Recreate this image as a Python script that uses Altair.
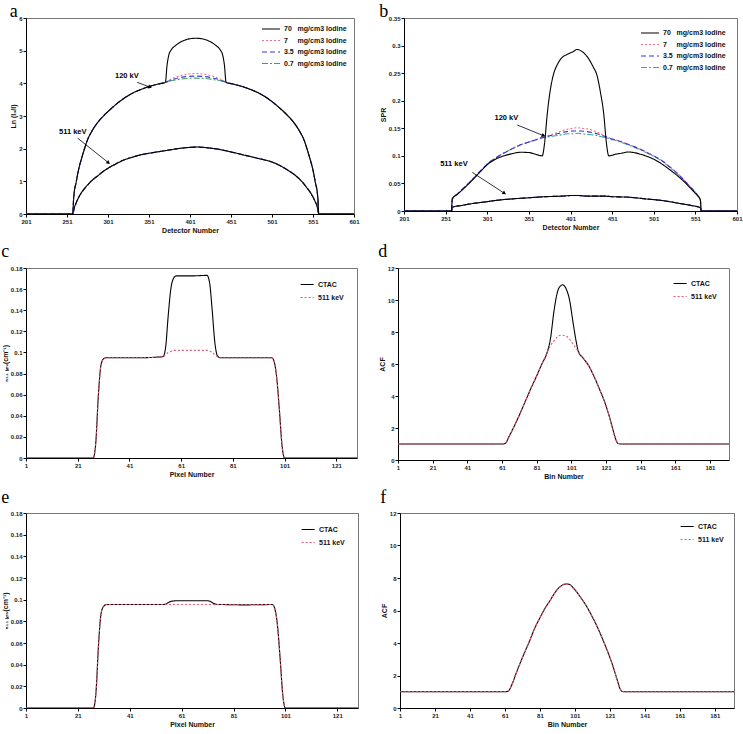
import altair as alt
import pandas as pd

SANS = "Liberation Sans"
SERIF = "Liberation Serif"

# ---------------- panel a : Ln(I0/I) vs detector ----------------
a_x = [201, 258, 259, 260, 262, 264, 266, 269, 272, 276, 281, 289, 297, 305, 313, 321, 331, 341, 351, 361, 371,
       373, 375, 378, 383, 390, 398, 408, 418, 426, 433, 438, 441, 443,
       445, 455, 465, 475, 485, 495, 503, 511, 519, 527, 535, 540, 544, 547, 550, 552, 554, 556, 557, 558, 601]
a_70 = [0, 0, 0.45, 0.70, 0.95, 1.22, 1.45, 1.72, 1.97, 2.27, 2.52, 2.82, 3.04, 3.23, 3.40, 3.55, 3.70, 3.81, 3.90, 3.97, 4.03,
        4.55, 4.85, 5.02, 5.15, 5.27, 5.35, 5.38, 5.35, 5.27, 5.15, 5.02, 4.85, 4.55,
        4.03, 3.97, 3.90, 3.81, 3.70, 3.55, 3.40, 3.23, 3.04, 2.82, 2.52, 2.27, 1.97, 1.72, 1.45, 1.22, 0.95, 0.70, 0.45, 0, 0]
a_7 = [0, 0, 0.45, 0.70, 0.95, 1.22, 1.45, 1.72, 1.97, 2.27, 2.52, 2.82, 3.04, 3.23, 3.40, 3.55, 3.70, 3.81, 3.90, 3.97, 4.03,
       4.06, 4.09, 4.13, 4.18, 4.24, 4.28, 4.30, 4.28, 4.24, 4.18, 4.13, 4.09, 4.06,
       4.03, 3.97, 3.90, 3.81, 3.70, 3.55, 3.40, 3.23, 3.04, 2.82, 2.52, 2.27, 1.97, 1.72, 1.45, 1.22, 0.95, 0.70, 0.45, 0, 0]
a_35 = [0, 0, 0.45, 0.70, 0.95, 1.22, 1.45, 1.72, 1.97, 2.27, 2.52, 2.82, 3.04, 3.23, 3.40, 3.55, 3.70, 3.81, 3.90, 3.97, 4.03,
        4.05, 4.07, 4.10, 4.14, 4.18, 4.21, 4.22, 4.21, 4.18, 4.14, 4.10, 4.07, 4.05,
        4.03, 3.97, 3.90, 3.81, 3.70, 3.55, 3.40, 3.23, 3.04, 2.82, 2.52, 2.27, 1.97, 1.72, 1.45, 1.22, 0.95, 0.70, 0.45, 0, 0]
a_07 = [0, 0, 0.45, 0.70, 0.95, 1.22, 1.45, 1.72, 1.97, 2.27, 2.52, 2.82, 3.04, 3.23, 3.40, 3.55, 3.70, 3.81, 3.90, 3.97, 4.03,
        4.04, 4.06, 4.08, 4.10, 4.13, 4.15, 4.16, 4.15, 4.13, 4.10, 4.08, 4.06, 4.04,
        4.03, 3.97, 3.90, 3.81, 3.70, 3.55, 3.40, 3.23, 3.04, 2.82, 2.52, 2.27, 1.97, 1.72, 1.45, 1.22, 0.95, 0.70, 0.45, 0, 0]
a511_x = [201, 258, 260, 262, 265, 268, 273, 278, 283, 289, 295, 301, 311, 321, 331, 341, 356, 371, 386, 401,
          411, 421, 436, 451, 466, 481, 491, 501, 511, 521, 531, 538, 543, 548, 551, 554, 556, 558, 601]
a511_y = [0, 0, 0.20, 0.33, 0.50, 0.63, 0.80, 0.94, 1.06, 1.18, 1.30, 1.40, 1.54, 1.66, 1.74, 1.81, 1.88, 1.94, 2.00, 2.04,
          2.05, 2.03, 1.98, 1.90, 1.81, 1.72, 1.66, 1.59, 1.48, 1.33, 1.15, 0.98, 0.82, 0.65, 0.52, 0.36, 0.25, 0, 0]

# ---------------- panel b : SPR vs detector ----------------
b_x = [201, 258, 259, 265, 275, 285, 295, 301, 311, 321, 331, 341, 351, 361, 367, 370, 373, 377, 381, 385,
       390, 397, 404, 409, 414, 421, 428, 433, 437, 441, 444, 447, 455, 463, 470, 477, 485, 493, 501, 511,
       521, 531, 541, 549, 554, 557, 558, 601]
b_70 = [0, 0, 0.022, 0.030, 0.044, 0.059, 0.075, 0.084, 0.094, 0.100, 0.104, 0.1065, 0.106, 0.102, 0.100, 0.125,
        0.175, 0.222, 0.250, 0.265, 0.277, 0.284, 0.289, 0.293, 0.290, 0.280, 0.262, 0.245, 0.215, 0.175,
        0.125, 0.100, 0.103, 0.105, 0.107, 0.106, 0.103, 0.099, 0.094, 0.085, 0.074, 0.062, 0.048, 0.035,
        0.027, 0.020, 0, 0]
b_7 = [0, 0, 0.022, 0.031, 0.045, 0.060, 0.076, 0.085, 0.096, 0.105, 0.113, 0.120, 0.125, 0.130, 0.133, 0.134,
       0.136, 0.138, 0.140, 0.142, 0.145, 0.148, 0.150, 0.151, 0.150, 0.149, 0.146, 0.143, 0.140, 0.137,
       0.135, 0.133, 0.129, 0.125, 0.121, 0.117, 0.112, 0.106, 0.100, 0.091, 0.079, 0.066, 0.050, 0.037,
       0.028, 0.020, 0, 0]
b_35 = [0, 0, 0.022, 0.031, 0.045, 0.060, 0.076, 0.085, 0.096, 0.105, 0.113, 0.120, 0.125, 0.130, 0.133, 0.134,
        0.135, 0.137, 0.138, 0.140, 0.142, 0.144, 0.145, 0.145, 0.145, 0.144, 0.142, 0.140, 0.138, 0.136,
        0.134, 0.132, 0.129, 0.125, 0.121, 0.117, 0.112, 0.106, 0.100, 0.091, 0.079, 0.066, 0.050, 0.037,
        0.028, 0.020, 0, 0]
b_07 = [0, 0, 0.022, 0.031, 0.045, 0.060, 0.076, 0.085, 0.096, 0.105, 0.113, 0.120, 0.125, 0.130, 0.133, 0.133,
        0.134, 0.135, 0.136, 0.137, 0.138, 0.140, 0.140, 0.141, 0.140, 0.139, 0.138, 0.137, 0.135, 0.134,
        0.133, 0.131, 0.128, 0.124, 0.120, 0.116, 0.111, 0.105, 0.099, 0.090, 0.078, 0.065, 0.050, 0.037,
        0.028, 0.020, 0, 0]
b511_x = [201, 258, 259, 270, 281, 291, 301, 316, 331, 351, 371, 391, 401, 411, 421, 441, 451, 471, 491, 511,
          531, 546, 557, 558, 601]
b511_y = [0, 0, 0.007, 0.010, 0.013, 0.015, 0.017, 0.020, 0.022, 0.024, 0.026, 0.027, 0.028, 0.028, 0.027, 0.027,
          0.026, 0.025, 0.022, 0.019, 0.014, 0.010, 0.006, 0, 0]

# ---------------- panels c, e : attenuation map profile ----------------
ce_x = [1, 27, 28, 29, 30, 31, 32, 45, 54, 55, 56, 57, 58, 59, 65, 71, 72, 73, 74, 75, 76, 85, 96, 97, 98, 99, 100, 101, 129]
c_ctac = [0, 0, 0.015, 0.060, 0.088, 0.094, 0.095, 0.095, 0.096, 0.105, 0.135, 0.160, 0.170, 0.1725, 0.1725, 0.173,
          0.166, 0.140, 0.110, 0.097, 0.095, 0.095, 0.095, 0.091, 0.075, 0.045, 0.012, 0, 0]
c_511 = [0, 0, 0.015, 0.060, 0.088, 0.094, 0.095, 0.095, 0.096, 0.098, 0.100, 0.101, 0.102, 0.102, 0.102, 0.102,
         0.1015, 0.100, 0.098, 0.096, 0.095, 0.095, 0.095, 0.091, 0.075, 0.045, 0.012, 0, 0]
e_ctac = [0, 0, 0.015, 0.060, 0.088, 0.094, 0.0955, 0.0955, 0.0955, 0.096, 0.0975, 0.0985, 0.0988, 0.099, 0.099, 0.099,
          0.0985, 0.097, 0.096, 0.0955, 0.0955, 0.0952, 0.0955, 0.091, 0.075, 0.045, 0.012, 0, 0]
e_511 = [0, 0, 0.015, 0.060, 0.088, 0.094, 0.0955, 0.0955, 0.0955, 0.0955, 0.0955, 0.0955, 0.0955, 0.0955, 0.0955, 0.0955,
         0.0955, 0.0955, 0.0955, 0.0955, 0.0955, 0.0952, 0.0955, 0.091, 0.075, 0.045, 0.012, 0, 0]

# ---------------- panels d, f : attenuation correction factors ----------------
df_x = [1, 61, 63, 65, 68, 71, 75, 78, 81, 84, 87, 89, 91, 93, 95, 96, 98, 100, 102, 104, 105,
        108, 111, 114, 117, 120, 123, 125, 127, 128, 130, 192]
d_ctac = [1.0, 1.0, 1.05, 1.45, 2.1, 2.8, 3.8, 4.55, 5.25, 6.0, 6.7, 7.6, 9.3, 10.5, 10.9, 10.95, 10.7, 10.0, 8.6, 7.3,
          6.8, 6.35, 5.9, 5.25, 4.5, 3.7, 2.7, 1.9, 1.2, 1.03, 1.0, 1.0]
d_511 = [1.0, 1.0, 1.05, 1.45, 2.1, 2.8, 3.8, 4.55, 5.25, 6.0, 6.7, 7.15, 7.45, 7.7, 7.8, 7.8, 7.75, 7.55, 7.25, 6.95,
         6.8, 6.35, 5.9, 5.25, 4.5, 3.7, 2.7, 1.9, 1.2, 1.03, 1.0, 1.0]
f_ctac = [1.0, 1.0, 1.05, 1.45, 2.3, 3.1, 4.1, 4.9, 5.55, 6.15, 6.65, 7.0, 7.3, 7.5, 7.62, 7.63, 7.6, 7.4, 7.15, 6.85,
          6.7, 6.2, 5.6, 4.95, 4.2, 3.4, 2.5, 1.8, 1.15, 1.02, 1.0, 1.0]
f_511 = [1.0, 1.0, 1.05, 1.45, 2.3, 3.1, 4.1, 4.9, 5.55, 6.15, 6.65, 7.0, 7.3, 7.5, 7.6, 7.61, 7.58, 7.4, 7.15, 6.85,
         6.7, 6.2, 5.6, 4.95, 4.2, 3.4, 2.5, 1.8, 1.15, 1.02, 1.0, 1.0]

# ---------------- labels / ticks ----------------
iodine_names = ["70\u00a0\u00a0\u00a0mg/cm3 Iodine", "7\u00a0\u00a0\u00a0\u00a0\u00a0mg/cm3 Iodine",
                "3.5\u00a0\u00a0mg/cm3 Iodine", "0.7\u00a0\u00a0mg/cm3 Iodine"]
ac_names = ["CTAC", "511 keV"]
det_ticks = [201, 251, 301, 351, 401, 451, 501, 551, 601]
pix_ticks = [1, 21, 41, 61, 81, 101, 121]
bin_ticks = [1, 21, 41, 61, 81, 101, 121, 141, 161, 181]
a_yticks = [0, 1, 2, 3, 4, 5, 6]
b_yticks = [0, 0.05, 0.1, 0.15, 0.2, 0.25, 0.3, 0.35]
ce_yticks = [0, 0.02, 0.04, 0.06, 0.08, 0.1, 0.12, 0.14, 0.16, 0.18]
df_yticks = [0, 2, 4, 6, 8, 10, 12]

# annotations (text position, arrow start, arrow tip)
a_ann_text = ["120 kV", "511 keV"]
a_ann_x = [324, 258]
a_ann_y = [4.22, 2.50]
a_arr_x = [336.6, 264]
a_arr_y = [4.03, 2.32]
a_tip_x = [351.6, 301]
a_tip_y = [3.89, 1.58]
a_tip_ang = [110, 128]
b_ann_text = ["120 kV", "511 keV"]
b_ann_x = [324, 261]
b_ann_y = [0.169, 0.085]
b_arr_x = [337, 283]
b_arr_y = [0.156, 0.070]
b_tip_x = [368, 321]
b_tip_y = [0.137, 0.0327]
b_tip_ang = [112, 123]

# drawing order (black solid on top); legend order comes from the scale domain
draw_order = [3, 1, 2, 0]


def rows_for(x, names, values, grp, order=None):
    out = []
    idx = order if order is not None else range(len(names))
    for i in idx:
        for xi, yi in zip(x, values[i]):
            out.append({"x": xi, "y": yi, "series": names[i], "grp": grp})
    return out


def panel(rows, letter, title_offset, width, height, xdom, xvals, xtitle, ydom, yvals, ytitle,
          names, colors, dashes, leg_offset, sym_size, row_pad, ann=None):
    df = pd.DataFrame(rows)
    X = alt.X("x:Q", scale=alt.Scale(domain=xdom, nice=False, zero=False),
              axis=alt.Axis(values=xvals, title=xtitle, format="d", labelFlush=False))
    Y = alt.Y("y:Q", scale=alt.Scale(domain=ydom, nice=False, zero=False),
              axis=alt.Axis(values=yvals, title=ytitle, format="~g"))
    leg = alt.Legend(title=None, orient="top-right", offset=leg_offset, symbolType="M-5,0L1,0",
                     symbolSize=sym_size, rowPadding=row_pad, padding=0, labelOffset=3,
                     symbolStrokeWidth=1.2)
    lines = alt.Chart(df).mark_line(strokeWidth=1.1, interpolate="monotone", clip=True).encode(
        x=X, y=Y,
        color=alt.Color("series:N", scale=alt.Scale(domain=names, range=colors), legend=leg),
        strokeDash=alt.StrokeDash("series:N", scale=alt.Scale(domain=names, range=dashes), legend=leg),
        detail="grp:N",
    )
    layers = [lines]
    if ann is not None:
        texts, tx, ty, ax, ay, px, py, ang = ann
        tdf = pd.DataFrame({"x": tx, "y": ty, "t": texts})
        rdf = pd.DataFrame({"x": ax, "y": ay, "x2": px, "y2": py})
        hdf = pd.DataFrame({"x": px, "y": py, "ang": ang})
        layers.append(alt.Chart(tdf).mark_text(font=SANS, fontSize=7.5, fontWeight="bold", color="black").encode(
            x=X, y=Y, text="t:N"))
        layers.append(alt.Chart(rdf).mark_rule(color="black", strokeWidth=0.8).encode(
            x=X, y=Y, x2=alt.X2("x2:Q"), y2=alt.Y2("y2:Q")))
        layers.append(alt.Chart(hdf).mark_point(shape="triangle", filled=True, size=18, color="black",
                                                opacity=1).encode(
            x=X, y=Y, angle=alt.Angle("ang:Q", scale=None)))
    return alt.layer(*layers).properties(
        width=width, height=height,
        title=alt.TitleParams(letter, anchor="start", font=SERIF, fontSize=18, fontWeight="normal",
                              color="black", offset=title_offset),
    )


iod_colors_a = ["#000000", "#f0708c", "#3838d8", "#3da35a"]
iod_colors_b = ["#000000", "#f0708c", "#3838d8", "#35a89a"]
iod_dashes = [[1, 0], [2, 2], [5, 3], [6, 2, 2, 2]]
ac_colors = ["#000000", "#e8556e"]
ac_dashes = [[1, 0], [2, 2]]

rows_a = rows_for(a511_x, iodine_names, [a511_y, a511_y, a511_y, a511_y], "511", draw_order) + \
    rows_for(a_x, iodine_names, [a_70, a_7, a_35, a_07], "120", draw_order)
rows_b = rows_for(b511_x, iodine_names, [b511_y, b511_y, b511_y, b511_y], "511", draw_order) + \
    rows_for(b_x, iodine_names, [b_70, b_7, b_35, b_07], "120", draw_order)

pa = panel(rows_a, "a", -6, 328, 196, [201, 601], det_ticks, "Detector Number", [0, 6], a_yticks,
           "Ln (I\u2080/I)", iodine_names, iod_colors_a, iod_dashes, 7, 36, 4.5,
           ann=(a_ann_text, a_ann_x, a_ann_y, a_arr_x, a_arr_y, a_tip_x, a_tip_y, a_tip_ang))
pb = panel(rows_b, "b", -6, 333, 193, [201, 601], det_ticks, "Detector Number", [0, 0.35], b_yticks,
           "SPR", iodine_names, iod_colors_b, iod_dashes, 11, 36, 4.5,
           ann=(b_ann_text, b_ann_x, b_ann_y, b_arr_x, b_arr_y, b_tip_x, b_tip_y, b_tip_ang))
pc = panel(rows_for(ce_x, ac_names, [c_ctac, c_511], "p"), "c", 4, 331, 190, [1, 129], pix_ticks,
           "Pixel Number", [0, 0.18], ce_yticks, "\u2085\u2081\u2081 \u2096\u2091\u1d65(cm\u207b\u00b9)",
           ac_names, ac_colors, ac_dashes, 13, 19, 5)
pd_ = panel(rows_for(df_x, ac_names, [d_ctac, d_511], "p"), "d", 4, 331, 192, [1, 192], bin_ticks,
            "Bin Number", [0, 12], df_yticks, "ACF", ac_names, ac_colors, ac_dashes, 12, 19, 5)
pe = panel(rows_for(ce_x, ac_names, [e_ctac, e_511], "p"), "e", 3, 332, 195, [1, 129], pix_ticks,
           "Pixel Number", [0, 0.18], ce_yticks, "\u2085\u2081\u2081 \u2096\u2091\u1d65(cm\u207b\u00b9)",
           ac_names, ac_colors, ac_dashes, 13, 19, 5)
pf = panel(rows_for(df_x, ac_names, [f_ctac, f_511], "p"), "f", 3, 334, 195, [1, 192], bin_ticks,
           "Bin Number", [0, 12], df_yticks, "ACF", ac_names, ac_colors, ac_dashes, 10, 19, 5)


def row(l, r, sp):
    return alt.hconcat(l, r, spacing=sp).resolve_scale(color="independent", strokeDash="independent") \
        .resolve_legend(color="independent", strokeDash="independent")


chart = alt.vconcat(row(pa, pb, 18), row(pc, pd_, 19), row(pe, pf, 20), spacing=8) \
    .resolve_scale(color="independent", strokeDash="independent") \
    .resolve_legend(color="independent", strokeDash="independent") \
    .properties(padding={"left": 0, "top": 2, "right": 0, "bottom": 0}, background="white") \
    .configure_axis(labelFont=SANS, labelFontSize=6, labelFontWeight="bold", labelColor="#222",
                    titleFont=SANS, titleFontSize=7, titleFontWeight="bold", titleColor="#111",
                    tickSize=3, tickColor="#000", domainColor="#000", grid=False, labelPadding=1,
                    titlePadding=2) \
    .configure_legend(labelFont=SANS, labelFontSize=7, labelFontWeight="bold", labelColor="#111") \
    .configure_view(stroke="#777", strokeWidth=1)

chart.save("out.html", embed_options={"renderer": "svg", "actions": False})
